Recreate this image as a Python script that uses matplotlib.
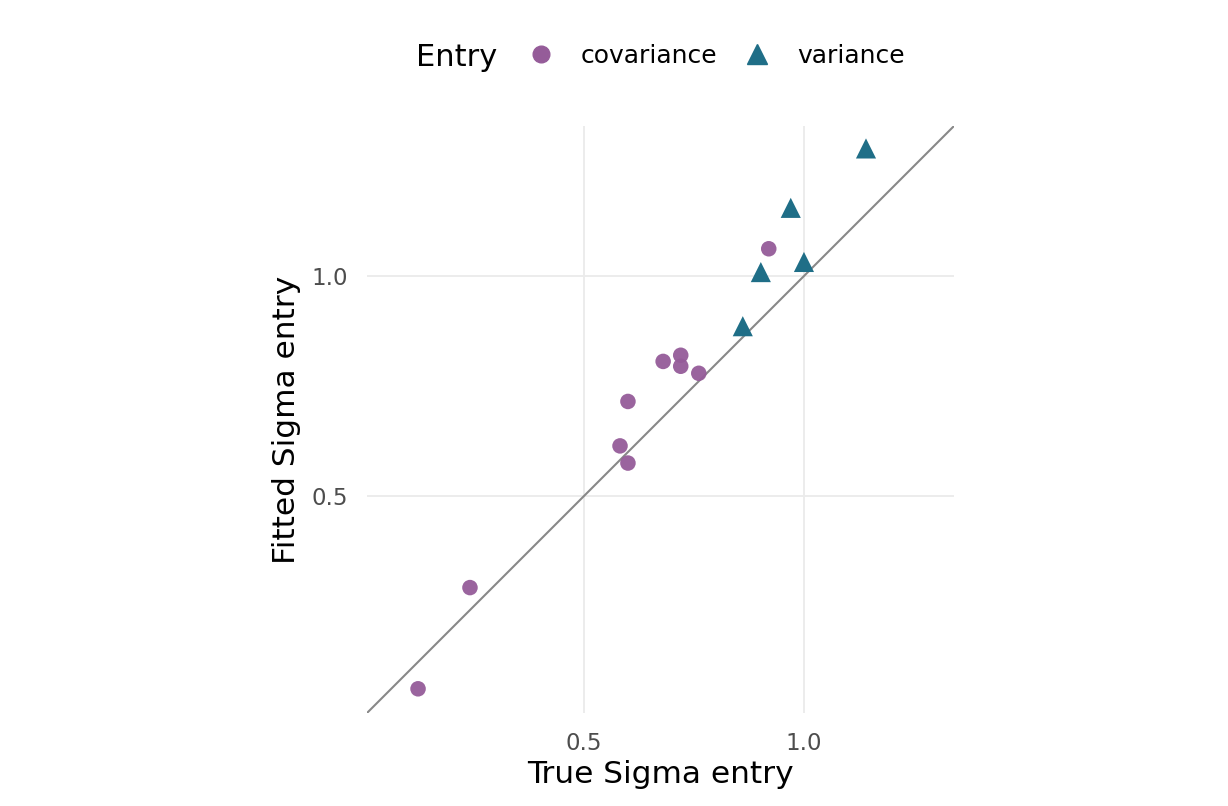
import matplotlib

matplotlib.use("Agg")
import matplotlib.pyplot as plt  # noqa: E402
from matplotlib.lines import Line2D  # noqa: E402

# values
cov_true = [0.123, 0.241, 0.582, 0.600, 0.600, 0.680, 0.720, 0.720, 0.761, 0.920]
cov_fit = [0.062, 0.292, 0.614, 0.575, 0.715, 0.806, 0.820, 0.795, 0.779, 1.062]
var_true = [0.861, 0.902, 0.970, 1.000, 1.141]
var_fit = [0.886, 1.009, 1.155, 1.032, 1.290]
ticks = [0.5, 1.0]
tick_labels = ["0.5", "1.0"]

PURPLE = "#955c99"
TEAL = "#1f6e87"

fig = plt.figure(figsize=(12.28, 8.06), dpi=100)
ax = fig.add_axes([367 / 1228, 1 - 713 / 806, 587 / 1228, 587 / 806])

lo, hi = 0.007, 1.341
ax.set_xlim(lo, hi)
ax.set_ylim(lo, hi)

ax.axline((0, 0), slope=1, color="#888888", lw=1.5, zorder=2)
ax.scatter(cov_true, cov_fit, s=125, marker="o", color=PURPLE, alpha=0.95,
           edgecolors="none", zorder=3)
ax.scatter(var_true, var_fit, s=210, marker="^", color=TEAL,
           edgecolors="none", zorder=3)

ax.set_xticks(ticks)
ax.set_xticklabels(tick_labels)
ax.set_yticks(ticks)
ax.set_yticklabels(tick_labels)
ax.tick_params(length=0, labelsize=16.5, labelcolor="#4d4d4d")
ax.tick_params(axis="x", pad=14)
ax.tick_params(axis="y", pad=14)
ax.grid(True, color="#ebebeb", lw=1.3)
ax.set_axisbelow(True)
for sp in ax.spines.values():
    sp.set_visible(False)

ax.set_xlabel("True Sigma entry", fontsize=22.5, labelpad=3)
ax.set_ylabel("Fitted Sigma entry", fontsize=22.5, labelpad=7)

# legend on top, title to the left like ggplot
fig.text(416 / 1228, 1 - 57 / 806, "Entry", fontsize=22, va="center", ha="left")
handles = [
    Line2D([], [], marker="o", ls="", color=PURPLE, markersize=12),
    Line2D([], [], marker="^", ls="", color=TEAL, markersize=15),
]
fig.legend(handles, ["covariance", "variance"], loc="center left",
           bbox_to_anchor=(503 / 1228, 1 - 56 / 806), ncol=2, frameon=False,
           fontsize=18, handletextpad=1.0, columnspacing=1.0, handlelength=1.2)

fig.savefig("out.png", dpi=100)
